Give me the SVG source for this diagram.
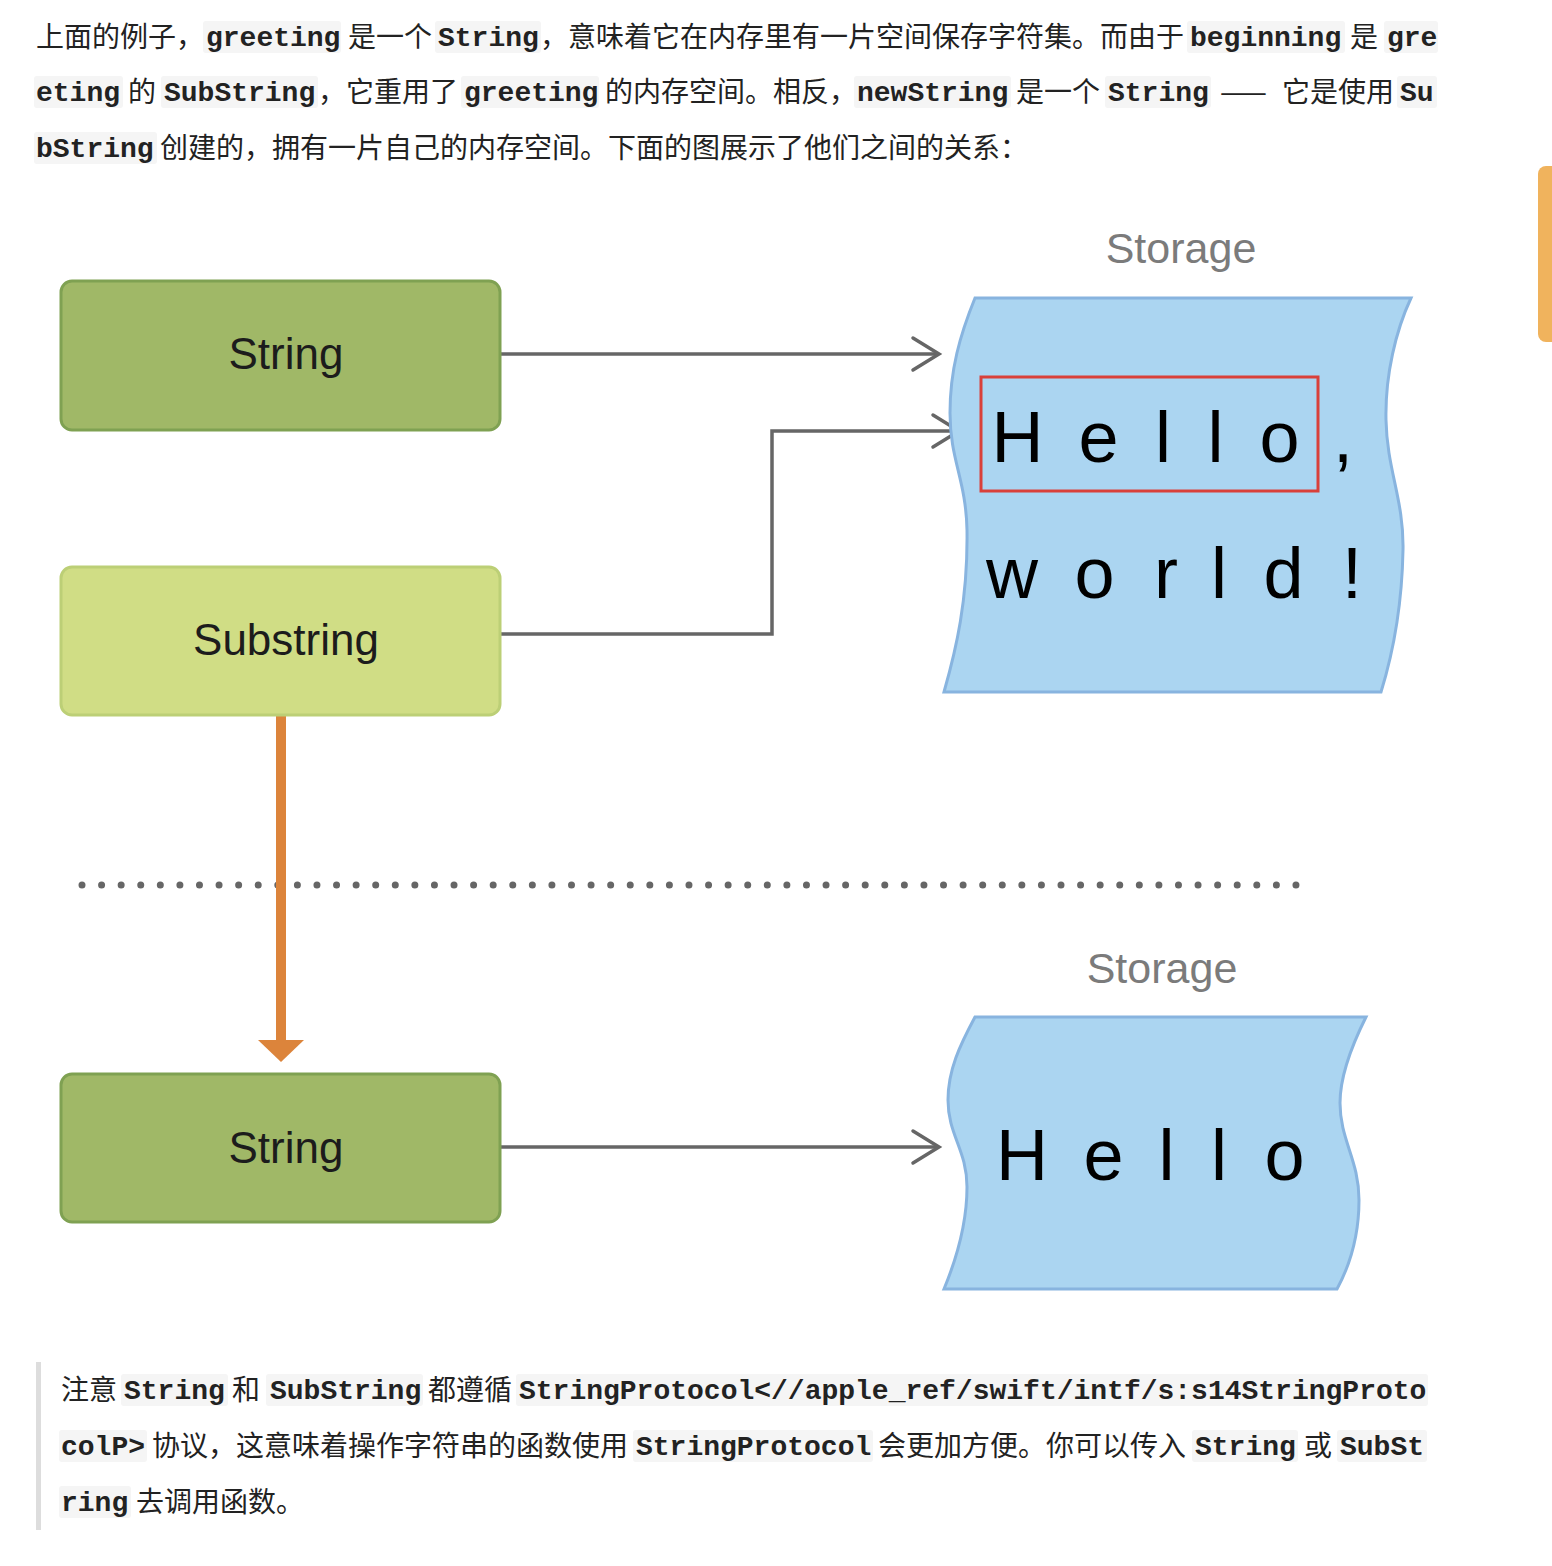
<svg xmlns="http://www.w3.org/2000/svg" width="1552" height="1566" viewBox="0 0 1552 1566">
<style>
.cn{font-family:"Noto Sans CJK SC","Noto Sans",sans-serif;font-size:28px;fill:#222}
.code{font-family:"Liberation Mono",monospace;font-size:28px;font-weight:bold;fill:#222}
.cbg{fill:#f5f5f5}
.nodeText{font-family:"Liberation Sans",Arial,sans-serif;font-size:44px;fill:#1c1c1c;text-anchor:middle}
.storageLbl{font-family:"Liberation Sans",Arial,sans-serif;font-size:43px;fill:#7b7b7b;text-anchor:middle}
.glyphs{font-family:"Liberation Sans",Arial,sans-serif;font-size:72px;fill:#000;text-anchor:middle}
.conn{fill:none;stroke:#666;stroke-width:3.5}
.storage{fill:#abd5f1;stroke:#88b4df;stroke-width:3}
</style>
<defs>
<marker id="chev" markerUnits="userSpaceOnUse" viewBox="-32 -20 36 40" refX="0" refY="0" markerWidth="36" markerHeight="40" orient="auto">
<path d="M-26,-16 L0,0 L-26,16" fill="none" stroke="#666" stroke-width="3.5" stroke-linecap="round"/>
</marker>
</defs>
<rect width="1552" height="1566" fill="#fff"/>

<g id="intro-text">
<rect class="cbg" x="203" y="21" width="138" height="32" rx="3"/>
<rect class="cbg" x="435" y="21" width="106" height="32" rx="3"/>
<rect class="cbg" x="1187" y="21" width="158" height="32" rx="3"/>
<rect class="cbg" x="1384" y="21" width="54" height="32" rx="3"/>
<rect class="cbg" x="34" y="76" width="89" height="32" rx="3"/>
<rect class="cbg" x="161" y="76" width="157" height="32" rx="3"/>
<rect class="cbg" x="461" y="76" width="138" height="32" rx="3"/>
<rect class="cbg" x="854" y="76" width="157" height="32" rx="3"/>
<rect class="cbg" x="1105" y="76" width="106" height="32" rx="3"/>
<rect class="cbg" x="1397" y="76" width="40" height="32" rx="3"/>
<rect class="cbg" x="34" y="132" width="123" height="32" rx="3"/>
<text class="cn" x="36" y="47">上面的例子，</text>
<text class="code" x="206" y="46">greeting</text>
<text class="cn" x="348" y="47">是一个</text>
<text class="code" x="438" y="46">String</text>
<text class="cn" x="540" y="47">，意味着它在内存里有一片空间保存字符集。而由于</text>
<text class="code" x="1190" y="46">beginning</text>
<text class="cn" x="1350" y="47">是</text>
<text class="code" x="1387" y="46">gre</text>
<text class="code" x="36" y="101">eting</text>
<text class="cn" x="128" y="102">的</text>
<text class="code" x="164" y="101">SubString</text>
<text class="cn" x="318" y="102">，它重用了</text>
<text class="code" x="464" y="101">greeting</text>
<text class="cn" x="605" y="102">的内存空间。相反，</text>
<text class="code" x="857" y="101">newString</text>
<text class="cn" x="1016" y="102">是一个</text>
<text class="code" x="1108" y="101">String</text>
<text class="cn" x="1220" y="102" letter-spacing="6">——</text>
<text class="cn" x="1282" y="102">它是使用</text>
<text class="code" x="1400" y="101">Su</text>
<text class="code" x="36" y="157">bString</text>
<text class="cn" x="160" y="158">创建的，拥有一片自己的内存空间。下面的图展示了他们之间的关系：</text>
</g>

<rect x="1538" y="166" width="24" height="176" rx="8" fill="#f0b35d"/>

<g id="connectors">
<line x1="82" y1="885" x2="1300" y2="885" stroke="#666" stroke-width="7" stroke-linecap="round" stroke-dasharray="0 19.58"/>
<path class="conn" d="M501,354 H939" marker-end="url(#chev)"/>
<path class="conn" d="M501,634 H772 V431 H959" marker-end="url(#chev)"/>
<path class="conn" d="M501,1147 H939" marker-end="url(#chev)"/>
<line x1="281" y1="716" x2="281" y2="1042" stroke="#dc843b" stroke-width="10"/>
<polygon points="258,1040 304,1040 281,1062" fill="#dc843b"/>
</g>

<g id="node-string-top">
<rect x="61" y="281" width="439" height="149" rx="11" fill="#a0b867" stroke="#7fa152" stroke-width="3"/>
<text class="nodeText" x="286" y="369">String</text>
</g>

<g id="node-substring">
<rect x="61" y="567" width="439" height="148" rx="11" fill="#d0dd85" stroke="#bccf76" stroke-width="3"/>
<text class="nodeText" x="286" y="655">Substring</text>
</g>

<g id="node-string-bottom">
<rect x="61" y="1074" width="439" height="148" rx="11" fill="#a0b867" stroke="#7fa152" stroke-width="3"/>
<text class="nodeText" x="286" y="1163">String</text>
</g>

<g id="storage-top">
<text class="storageLbl" x="1181" y="263">Storage</text>
<path class="storage" d="M975,298 L1411,298 C1396,330 1385,375 1386,420 C1387,470 1404,500 1403,550 C1402,605 1394,650 1381,692 L944,692 C956,650 968,600 967,530 C966,480 950,460 950,413 C950,370 960,335 975,298 Z"/>
<rect x="981" y="377" width="337" height="114" fill="none" stroke="#d9403a" stroke-width="3"/>
<text class="glyphs" x="1017.5 1098.5 1163 1215.5 1279.5 1343" y="462">Hello,</text>
<text class="glyphs" x="1012 1094.5 1166 1219 1283.5 1352" y="598">world!</text>
</g>

<g id="storage-bottom">
<text class="storageLbl" x="1162" y="983">Storage</text>
<path class="storage" d="M975,1017 L1366,1017 C1352,1045 1340,1075 1340,1103 C1340,1140 1359,1160 1359,1200 C1359,1235 1350,1265 1337,1289 L944,1289 C956,1260 967,1225 967,1187 C967,1150 948,1135 948,1100 C948,1070 960,1045 975,1017 Z"/>
<text class="glyphs" x="1022 1103.5 1166.5 1219 1284.5" y="1180">Hello</text>
</g>

<g id="note-text">
<rect x="36" y="1362" width="5" height="168" fill="#dddddd"/>
<rect class="cbg" x="121" y="1374" width="107" height="32" rx="3"/>
<rect class="cbg" x="266" y="1374" width="157" height="32" rx="3"/>
<rect class="cbg" x="516" y="1374" width="912" height="32" rx="3"/>
<rect class="cbg" x="59" y="1430" width="88" height="32" rx="3"/>
<rect class="cbg" x="633" y="1430" width="240" height="32" rx="3"/>
<rect class="cbg" x="1192" y="1430" width="106" height="32" rx="3"/>
<rect class="cbg" x="1337" y="1430" width="90" height="32" rx="3"/>
<rect class="cbg" x="59" y="1486" width="72" height="32" rx="3"/>
<text class="cn" x="61" y="1400">注意</text>
<text class="code" x="124" y="1399">String</text>
<text class="cn" x="232" y="1400">和</text>
<text class="code" x="270" y="1399">SubString</text>
<text class="cn" x="428" y="1400">都遵循</text>
<text class="code" x="519" y="1399">StringProtocol&lt;//apple_ref/swift/intf/s:s14StringProto</text>
<text class="code" x="61" y="1455">colP&gt;</text>
<text class="cn" x="152" y="1456">协议，这意味着操作字符串的函数使用</text>
<text class="code" x="636" y="1455">StringProtocol</text>
<text class="cn" x="878" y="1456">会更加方便。你可以传入</text>
<text class="code" x="1195" y="1455">String</text>
<text class="cn" x="1304" y="1456">或</text>
<text class="code" x="1340" y="1455">SubSt</text>
<text class="code" x="61" y="1511">ring</text>
<text class="cn" x="136" y="1512">去调用函数。</text>
</g>
</svg>
